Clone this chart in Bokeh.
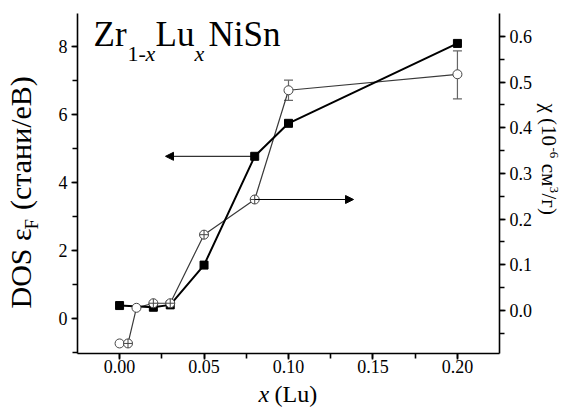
import math
from bokeh.plotting import figure
from bokeh.layouts import row, column
from bokeh.models import (Range1d, LinearAxis, SingleIntervalTicker, PrintfTickFormatter,
                          ColumnDataSource, Whisker, TeeHead, Arrow, NormalHead, Label)
from bokeh.embed import file_html
from bokeh.resources import INLINE

# ---- data ----
x_dos = [0.00, 0.02, 0.03, 0.05, 0.08, 0.10, 0.20]
dos = [0.38, 0.33, 0.40, 1.57, 4.77, 5.74, 8.09]

chi_x = [0.000, 0.005, 0.010, 0.020, 0.030, 0.050, 0.080, 0.100, 0.200]
chi_y = [-0.072, -0.072, 0.006, 0.016, 0.016, 0.166, 0.243, 0.482, 0.517]
chi_kind = ["open", "cross", "open", "cross", "cross", "cross", "cross", "open", "open"]

err_x = [0.10, 0.20]
err_lo = [0.460, 0.463]
err_hi = [0.504, 0.568]

FONT = "Liberation Serif"
NB = "\u00a0"
BASE_SHIFT = 0.39  # em, empirical correction of the alphabetic baseline

# layout geometry (canvas px)
LW, RW, TOP_H = 45, 35, 381
BOT_H = 408 - TOP_H
MW = 570 - LW - RW
FT, FBOT = 13, 353  # frame top / bottom (canvas y)

p = figure(width=MW, height=TOP_H, output_backend="svg", toolbar_location=None,
           x_range=Range1d(-0.0249, 0.2249), y_range=Range1d(-1.03, 8.97),
           min_border_left=77 - LW, min_border_right=(LW + MW) - 499, min_border_top=FT,
           min_border_bottom=TOP_H - FBOT, x_axis_type=None, y_axis_type=None)
p.outline_line_color = None
p.background_fill_color = "white"
p.border_fill_color = "white"
p.extra_y_ranges = {"chi": Range1d(-0.094, 0.650)}


def style_axis(ax):
    ax.axis_line_width = 1.6
    ax.axis_line_color = "black"
    ax.major_tick_line_width = 1.6
    ax.minor_tick_line_width = 1.6
    ax.major_tick_line_color = "black"
    ax.minor_tick_line_color = "black"
    ax.major_tick_in = 0
    ax.major_tick_out = 6
    ax.minor_tick_in = 0
    ax.minor_tick_out = 5
    ax.major_label_text_font = FONT
    ax.major_label_text_font_size = "18px"
    ax.major_label_text_color = "black"
    ax.major_label_standoff = 4


xax = LinearAxis(ticker=SingleIntervalTicker(interval=0.05, num_minor_ticks=2),
                 formatter=PrintfTickFormatter(format="%.2f"))
style_axis(xax)
xax.major_label_standoff = 0
p.add_layout(xax, "below")

lax = LinearAxis(ticker=SingleIntervalTicker(interval=2, num_minor_ticks=2),
                 formatter=PrintfTickFormatter(format="%d"))
style_axis(lax)
p.add_layout(lax, "left")

rax = LinearAxis(y_range_name="chi", ticker=SingleIntervalTicker(interval=0.1, num_minor_ticks=2),
                 formatter=PrintfTickFormatter(format="%.1f"))
style_axis(rax)
p.add_layout(rax, "right")

p.xgrid.visible = False
p.ygrid.visible = False

# chi series
p.line(chi_x, chi_y, y_range_name="chi", line_color="#3a3a3a", line_width=1.2)
err_src = ColumnDataSource(dict(x=err_x, lo=err_lo, hi=err_hi))
w = Whisker(source=err_src, base="x", lower="lo", upper="hi", y_range_name="chi",
            line_color="#666666", line_width=1.2,
            upper_head=TeeHead(size=9, line_color="#666666", line_width=1.2),
            lower_head=TeeHead(size=9, line_color="#666666", line_width=1.2))
p.add_layout(w)

ox = [x for x, k in zip(chi_x, chi_kind) if k == "open"]
oy = [y for y, k in zip(chi_y, chi_kind) if k == "open"]
cx = [x for x, k in zip(chi_x, chi_kind) if k == "cross"]
cy = [y for y, k in zip(chi_y, chi_kind) if k == "cross"]

# DOS series
p.line(x_dos, dos, line_color="black", line_width=2)
p.scatter(x_dos, dos, marker="square", size=8, fill_color="black", line_color="black")

p.scatter(ox, oy, y_range_name="chi", marker="circle", size=9, fill_color="white",
          line_color="#444444", line_width=1)
p.scatter(cx, cy, y_range_name="chi", marker="circle_cross", size=9, fill_color="white",
          line_color="#444444", line_width=1)

# arrows
p.add_layout(Arrow(end=NormalHead(size=8, fill_color="black", line_color="black"),
                   x_start=x_dos[4], y_start=dos[4], x_end=0.0272, y_end=dos[4],
                   line_color="black", line_width=1))
p.add_layout(Arrow(end=NormalHead(size=8, fill_color="black", line_color="black"),
                   x_start=chi_x[6], y_start=chi_y[6], x_end=0.1385, y_end=chi_y[6],
                   y_range_name="chi", line_color="black", line_width=1))


def blank(w_, h_, top=0, bottom=0):
    f = figure(width=w_, height=h_, output_backend="svg", toolbar_location=None,
               x_range=Range1d(0, w_), y_range=Range1d(0, h_ - top - bottom),
               min_border_left=0, min_border_right=0, min_border_top=top,
               min_border_bottom=bottom, x_axis_type=None, y_axis_type=None)
    f.outline_line_color = None
    f.xgrid.visible = False
    f.ygrid.visible = False
    f.background_fill_color = "white"
    f.border_fill_color = "white"
    return f


lf = blank(LW, TOP_H, FT, TOP_H - FBOT)
rf = blank(RW, TOP_H, FT, TOP_H - FBOT)
bf = blank(570, BOT_H)


def lab(fig, ox_, oy_, text, X, Y, size, angle=0.0, italic=False):
    """Place text with its alphabetic baseline start at canvas (X, Y).
    ox_, oy_: canvas position of the figure frame's bottom-left corner."""
    s = BASE_SHIFT * size
    ux, uy = -math.sin(angle), -math.cos(angle)  # text-up direction in canvas coords
    X2, Y2 = X + ux * s, Y + uy * s
    fig.add_layout(Label(x=X2 - ox_, y=oy_ - Y2, x_units="screen", y_units="screen", text=text,
                         text_font=FONT, text_font_size=f"{size}px", angle=angle,
                         text_align="left", text_baseline="alphabetic",
                         text_font_style="italic" if italic else "normal",
                         text_color="black"))


# title Zr1-xLuxNiSn (inside main frame: frame bottom-left at canvas (77, 353))
lab(p, 77, FBOT, "Zr", 93, 48, 35)
lab(p, 77, FBOT, "1-", 127, 62, 22)
lab(p, 77, FBOT, "x", 145, 62, 22, italic=True)
lab(p, 77, FBOT, "Lu", 155, 48, 35)
lab(p, 77, FBOT, "x", 194, 62, 22, italic=True)
lab(p, 77, FBOT, "NiSn", 208, 48, 35)

# x label (bottom strip, canvas y from TOP_H to 408)
lab(bf, 0, 408, "x", 258, 402.5, 24, italic=True)
lab(bf, 0, 408, NB + "(Lu)", 268, 402.5, 24)

# left label (bottom-to-top)
A = math.pi / 2
lab(lf, 0, FBOT, "DOS" + NB + "\u03b5", 32, 308, 30, angle=A)
lab(lf, 0, FBOT, "F", 38, 229, 19, angle=A)
lab(lf, 0, FBOT, NB + "(стани/еВ)", 32, 217, 30, angle=A)

# right label (top-to-bottom)
B = -math.pi / 2
R0 = LW + MW
lab(rf, R0, FBOT, "\u03c7" + NB + "(10", 540, 103, 21, angle=B)
lab(rf, R0, FBOT, "-6", 548, 147, 13, angle=B)
lab(rf, R0, FBOT, NB + "см", 540, 158, 21, angle=B)
lab(rf, R0, FBOT, "3", 548, 186, 13, angle=B)
lab(rf, R0, FBOT, "/г)", 540, 193, 21, angle=B)

layout = column(row(lf, p, rf, spacing=0), bf, spacing=0)
open("out.html", "w").write(file_html(layout, INLINE))
